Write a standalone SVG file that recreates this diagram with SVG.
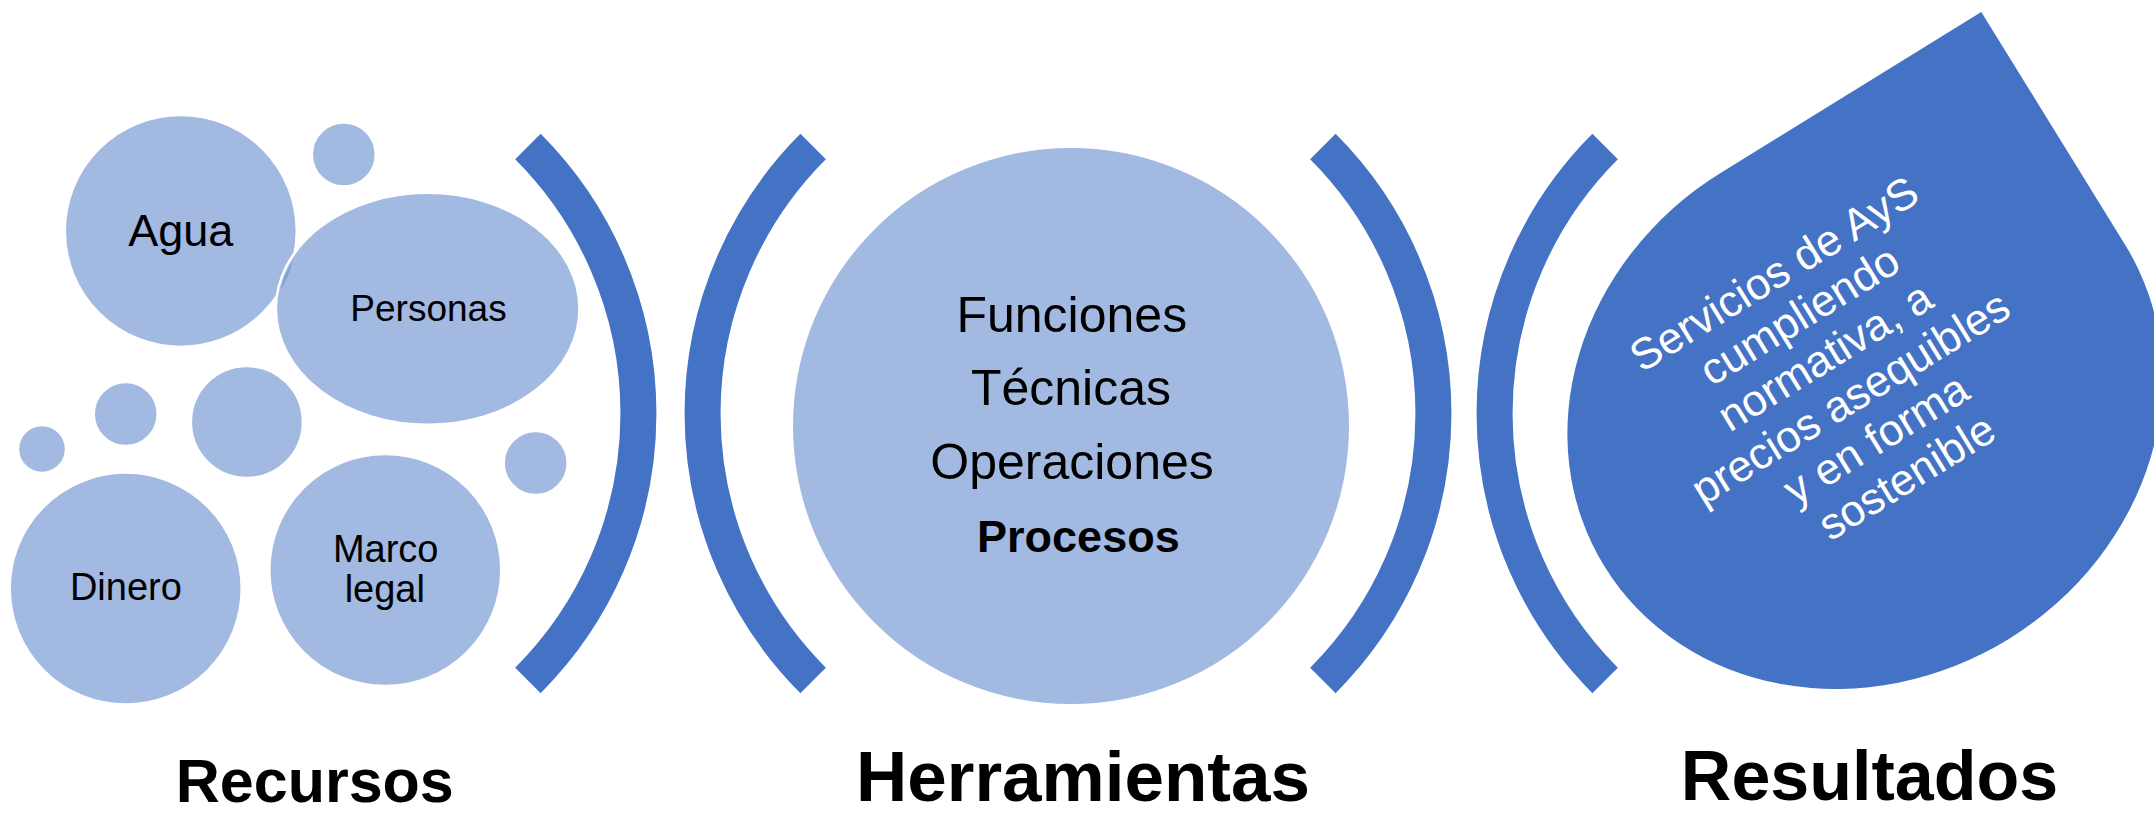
<svg xmlns="http://www.w3.org/2000/svg" width="2154" height="817" viewBox="0 0 2154 817">
  <defs>
    <style>
      .bub { fill: #A2B9E1; stroke: #FFFFFF; stroke-width: 2.5; }
      .arc { fill: none; stroke: #4472C4; stroke-width: 36; stroke-linecap: butt; }
      .lbl { font-family: "Liberation Sans", Arial, sans-serif; fill: #000000; text-anchor: middle; }
      .big { font-family: "Liberation Sans", Arial, sans-serif; font-weight: bold; fill: #000000; text-anchor: middle; }
      .drop-text { font-family: "Liberation Sans", Arial, sans-serif; fill: #FFFFFF; text-anchor: middle; font-size: 44px; }
    </style>
    <clipPath id="aguaClip">
      <circle cx="180.8" cy="230.9" r="116"/>
    </clipPath>
  </defs>
  <rect width="2154" height="817" fill="#FFFFFF"/>

  <!-- Recursos bubbles -->
  <g id="agua">
    <circle class="bub" cx="180.8" cy="230.9" r="116"/>
    <text class="lbl" x="180.8" y="246" font-size="45">Agua</text>
  </g>
  <g id="bubble-small-top">
    <circle class="bub" cx="343.8" cy="154.5" r="32"/>
  </g>
  <g id="personas">
    <ellipse class="bub" cx="427.7" cy="308.8" rx="151.8" ry="116"/>
    <ellipse cx="427.7" cy="308.8" rx="149" ry="113.5" fill="#7F9DD6" clip-path="url(#aguaClip)"/>
    <text class="lbl" x="428.5" y="320.5" font-size="37">Personas</text>
  </g>
  <g id="bubble-mid">
    <circle class="bub" cx="246.9" cy="422" r="56"/>
  </g>
  <g id="bubble-small-left">
    <circle class="bub" cx="125.7" cy="414" r="32"/>
  </g>
  <g id="bubble-smallest">
    <circle class="bub" cx="42" cy="449" r="24"/>
  </g>
  <g id="bubble-small-right">
    <circle class="bub" cx="535.7" cy="463" r="32"/>
  </g>
  <g id="dinero">
    <circle class="bub" cx="125.7" cy="588.6" r="116"/>
    <text class="lbl" x="125.9" y="600.3" font-size="38">Dinero</text>
  </g>
  <g id="marco-legal">
    <circle class="bub" cx="385.3" cy="570" r="116"/>
    <text class="lbl" font-size="38"><tspan x="385.7" y="561.7">Marco</tspan><tspan x="384.8" y="601.9">legal</tspan></text>
  </g>

  <!-- Brackets -->
  <g id="brackets">
    <path class="arc" d="M 527.9 146.6 A 377.5 377.5 0 0 1 527.9 680.4"/>
    <path class="arc" d="M 813.1 146.6 A 377.5 377.5 0 0 0 813.1 680.4"/>
    <path class="arc" d="M 1322.9 146.6 A 377.5 377.5 0 0 1 1322.9 680.4"/>
    <path class="arc" d="M 1605.1 146.6 A 377.5 377.5 0 0 0 1605.1 680.4"/>
  </g>

  <!-- Herramientas circle -->
  <g id="herramientas-circle">
    <circle cx="1071" cy="426" r="278" fill="#A2B9E1"/>
    <text class="lbl" x="1071.8" y="331.8" font-size="50">Funciones</text>
    <text class="lbl" x="1071" y="405.3" font-size="50">Técnicas</text>
    <text class="lbl" x="1072" y="478.8" font-size="50">Operaciones</text>
    <text class="big" x="1078.4" y="552.2" font-size="45">Procesos</text>
  </g>

  <!-- Resultados drop -->
  <g id="resultados-drop" transform="translate(1864.9 405.8) rotate(-31.7)">
    <path d="M -306 0 A 306 274 0 0 1 0 -274 L 306 -274 L 306 0 A 306 274 0 0 1 0 274 A 306 274 0 0 1 -306 0 Z" fill="#4472C4"/>
    <text class="drop-text">
      <tspan x="-2" y="-145">Servicios de AyS</tspan>
      <tspan x="-2" y="-96.5">cumpliendo</tspan>
      <tspan x="-2" y="-48">normativa, a</tspan>
      <tspan x="-2" y="0.5">precios asequibles</tspan>
      <tspan x="-2" y="49">y en forma</tspan>
      <tspan x="-2" y="97.5">sostenible</tspan>
    </text>
  </g>

  <!-- Section titles -->
  <g id="title-recursos">
    <text class="big" x="314.8" y="802" font-size="61">Recursos</text>
  </g>
  <g id="title-herramientas">
    <text class="big" x="1083" y="801" font-size="71">Herramientas</text>
  </g>
  <g id="title-resultados">
    <text class="big" x="1869.5" y="800" font-size="70">Resultados</text>
  </g>
</svg>
